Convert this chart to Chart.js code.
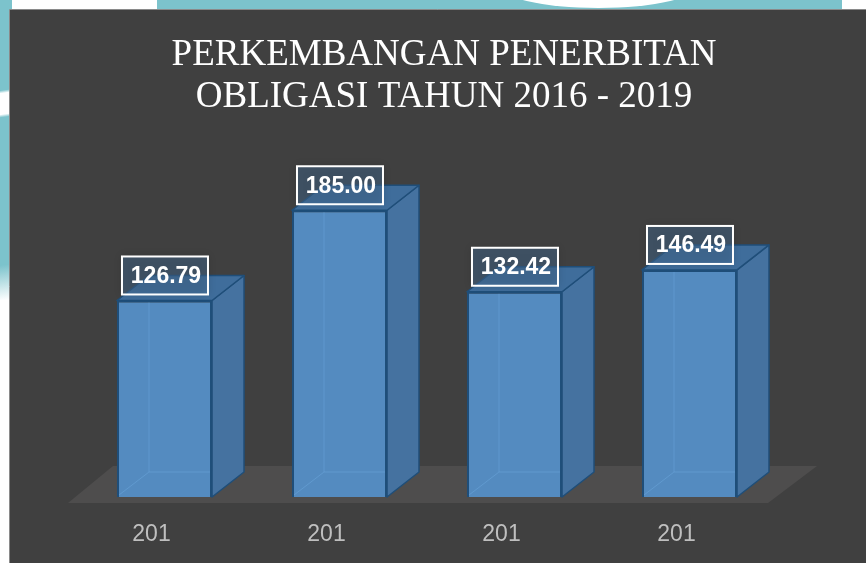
<!DOCTYPE html>
<html>
<head>
<meta charset="utf-8">
<script src="https://cdn.jsdelivr.net/npm/chart.js@4"></script>
<style>
  body { margin: 0; background: #fff; width: 866px; height: 563px; overflow: hidden; position: relative; }
  #topStrip { position: absolute; left: 157px; top: 0; width: 685px; height: 12px; background: #7cc3cc; overflow: hidden; }
  #topStrip div { position: absolute; left: 340px; top: -40px; width: 203px; height: 48px; border-radius: 50%; background: #fff; }
  #leftStrip { position: absolute; left: 0; top: 0; width: 12px; height: 300px;
    background: linear-gradient(172deg, #7cc3cc 0, #7cc3cc 30%, #fff 31%, #fff 38%, #7cc3cc 39%, #7cc3cc 88%, #fff 100%); }
  #wrap { position: absolute; left: 0; top: 0; width: 866px; height: 563px; }
</style>
</head>
<body>
<div id="topStrip"><div></div></div>
<div id="leftStrip"></div>
<div id="wrap"><canvas id="chart"></canvas></div>
<script>

const titleLines = ["PERKEMBANGAN PENERBITAN", "OBLIGASI TAHUN 2016 - 2019"]
const categories = ["201", "201", "201", "201"]
const values = [126.79, 185.00, 132.42, 146.49]
const valueLabels = values.map(v => v.toFixed(2))

const FRONT = "#548bc0"
const SIDE = "#4572a0"
const TOP = "#3f6d9b"
const EDGE = "#1f4e79"
const DX = 32, DY = -25

// panel, floor, 3d faces, labels
const bars3d = {
    id: "bars3d",
    beforeDraw(chart){
        const ctx = chart.ctx
        const area = chart.chartArea
        ctx.save()
        ctx.fillStyle = "#404040"
        ctx.fillRect(10, 10, chart.width - 10, chart.height - 10)
        ctx.strokeStyle = "#8a8a8a"
        ctx.lineWidth = 1
        ctx.beginPath()
        ctx.moveTo(9.5, chart.height)
        ctx.lineTo(9.5, 9.5)
        ctx.lineTo(chart.width, 9.5)
        ctx.stroke()

        // title
        ctx.fillStyle = "#ffffff"
        ctx.font = '37px "Liberation Serif", "Times New Roman", serif'
        ctx.textAlign = "center"
        ctx.textBaseline = "alphabetic"
        ctx.fillText(titleLines[0], 444, 65)
        ctx.fillText(titleLines[1], 444, 107)

        // floor
        const y0 = chart.scales.y.getPixelForValue(0)
        ctx.fillStyle = "#4e4d4d"
        ctx.beginPath()
        ctx.moveTo(area.left - 9, y0 + 6)
        ctx.lineTo(area.right - 9, y0 + 6)
        ctx.lineTo(area.right + 40, y0 - 31)
        ctx.lineTo(area.left + 36, y0 - 31)
        ctx.closePath()
        ctx.fill()
        ctx.restore()
    },
    beforeDatasetsDraw(chart){
        const ctx = chart.ctx
        const meta = chart.getDatasetMeta(0)
        ctx.save()
        ctx.lineWidth = 1.5
        ctx.strokeStyle = EDGE
        ctx.lineJoin = "round"
        meta.data.forEach(bar => {
            const L = bar.x - bar.width / 2
            const R = bar.x + bar.width / 2
            const T = bar.y
            const B = bar.base
            // side
            ctx.fillStyle = SIDE
            ctx.beginPath()
            ctx.moveTo(R, T)
            ctx.lineTo(R + DX, T + DY)
            ctx.lineTo(R + DX, B + DY)
            ctx.lineTo(R, B)
            ctx.closePath()
            ctx.fill()
            ctx.stroke()
            // top
            ctx.fillStyle = TOP
            ctx.beginPath()
            ctx.moveTo(L, T)
            ctx.lineTo(L + DX, T + DY)
            ctx.lineTo(R + DX, T + DY)
            ctx.lineTo(R, T)
            ctx.closePath()
            ctx.fill()
            ctx.stroke()
        })
        ctx.restore()
    },
    afterDatasetsDraw(chart){
        const ctx = chart.ctx
        const meta = chart.getDatasetMeta(0)
        ctx.save()
        meta.data.forEach((bar, i) => {
            const L = bar.x - bar.width / 2
            const R = bar.x + bar.width / 2
            const T = bar.y
            const B = bar.base

            // faint hidden edges seen through the front face
            ctx.strokeStyle = "rgba(110,170,225,0.45)"
            ctx.lineWidth = 1
            ctx.beginPath()
            ctx.moveTo(L + DX, T + 2)
            ctx.lineTo(L + DX, B + DY)
            ctx.lineTo(R - 2, B + DY)
            ctx.moveTo(L + DX, B + DY)
            ctx.lineTo(L + 2, B - 2)
            ctx.stroke()

            // value box
            const bw = 86, bh = 38
            const bx = L + 5
            const by = T - 6 - bh
            ctx.shadowColor = "rgba(0,0,0,0.35)"
            ctx.shadowBlur = 8
            ctx.fillStyle = "rgba(70,110,150,0.45)"
            ctx.fillRect(bx, by, bw, bh)
            ctx.shadowBlur = 0
            ctx.strokeStyle = "#ffffff"
            ctx.lineWidth = 2
            ctx.strokeRect(bx, by, bw, bh)

            ctx.fillStyle = "#ffffff"
            ctx.font = 'bold 23px "Liberation Sans", Arial, sans-serif'
            ctx.textAlign = "center"
            ctx.textBaseline = "middle"
            ctx.fillText(valueLabels[i], bx + bw / 2 + 1, by + bh / 2 + 1)
        })
        ctx.restore()
    }
}

const chart = new Chart(document.getElementById("chart"), {
    type: "bar",
    data: {
        labels: categories,
        datasets: [{
            data: values,
            backgroundColor: FRONT,
            borderColor: EDGE,
            borderWidth: 2,
            barPercentage: 0.543,
            categoryPercentage: 1
        }]
    },
    options: {
        responsive: true,
        maintainAspectRatio: false,
        animation: false,
        events: [],
        layout: {
            padding: { left: 77, right: 89, top: 187, bottom: 14 }
        },
        plugins: {
            legend: { display: false },
            title: { display: false },
            tooltip: { enabled: false }
        },
        scales: {
            x: {
                grid: { display: false },
                border: { display: false },
                afterFit: scale => { scale.height = 52 },
                ticks: {
                    color: "#bfbfbf",
                    padding: 16,
                    labelOffset: -13,
                    font: { family: '"Liberation Sans", Arial, sans-serif', size: 23 }
                }
            },
            y: {
                display: false,
                min: 0,
                max: 200
            }
        }
    },
    plugins: [bars3d]
})
</script>
</body>
</html>
